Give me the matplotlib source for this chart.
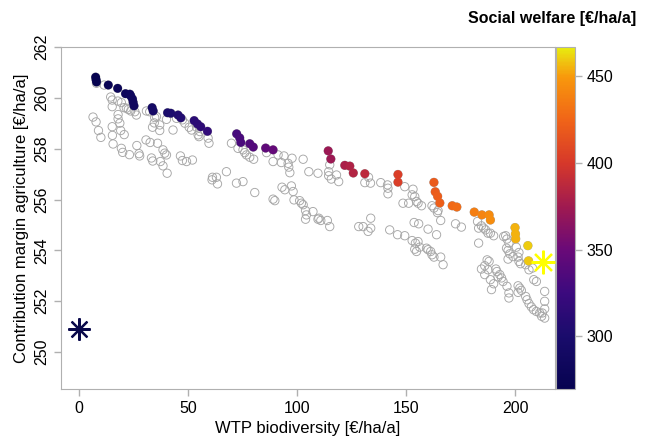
import numpy as np
import matplotlib
matplotlib.use('Agg')
import matplotlib.pyplot as plt
from matplotlib.colors import LinearSegmentedColormap, Normalize

plt.rcParams['font.family'] = ['Liberation Sans', 'DejaVu Sans']

# all solutions (grey open circles)
all_wtp = [8.0, 11.5, 14.5, 15.2, 15.2, 17.8, 19.4, 20.6, 21.7, 22.6, 23.7, 25.6, 26.3,
           17.9, 17.9, 18.7, 6.4, 7.8, 8.9, 10.0, 15.2, 15.3, 19.1, 20.7, 15.6, 19.4,
           20.0, 23.1, 26.5, 27.5, 27.8, 30.7, 32.6, 33.2, 33.8, 30.9, 32.4, 34.7, 35.5,
           34.5, 33.7, 37.0, 37.0, 36.0, 38.5, 39.3, 40.1, 37.3, 38.5, 40.4,
           40.1, 43.1, 44.7, 47.4, 48.5, 50.5, 51.6, 53.9, 55.4, 54.6, 55.0, 59.2, 46.5,
           47.4, 49.3, 52.0, 61.2, 63.0, 67.6, 69.9, 75.2, 76.0, 76.8, 78.3, 80.1, 59.6,
           61.0, 63.5, 72.2, 75.2, 80.6,
           72.9, 86.0, 89.0, 91.3, 92.8, 94.0, 95.9, 96.2, 96.7, 97.7, 102.8, 105.4,
           109.6, 89.0, 89.8, 93.1, 94.4, 97.4, 98.2, 98.6, 101.2, 102.0, 102.8, 103.9,
           104.3, 103.9, 107.3, 109.6,
           114.5, 115.0, 114.5, 115.7, 118.1, 119.1, 131.1, 132.8, 133.7, 138.4, 141.5,
           141.7, 141.7, 110.0, 110.9, 113.9, 115.0, 128.3, 130.3, 132.6, 133.8, 133.8,
           142.5, 146.1,
           149.4, 153.2, 152.8, 154.0, 148.6, 151.2, 154.8, 155.5, 157.1, 161.9, 162.8,
           164.7, 164.4, 165.9, 153.7, 155.8, 160.1, 164.0, 172.7, 175.4, 149.4, 152.8,
           154.3, 155.5, 154.0, 154.8, 156.3, 159.4, 160.1, 161.3, 161.9, 162.8, 165.9,
           167.0, 182.8, 183.3, 183.3,
           184.6, 185.6, 186.5, 187.6, 188.7, 190.2, 195.7, 196.3, 197.2, 196.1, 196.8,
           197.6, 196.8, 199.1, 201.4, 201.8, 202.5, 204.9, 206.4, 208.0, 208.6, 209.8,
           187.2, 188.1, 186.1, 187.6, 191.2, 191.7, 193.0, 192.2, 193.8, 194.5, 196.3,
           197.2, 197.2, 184.6, 186.1, 188.7, 190.2, 189.2, 201.4, 202.2, 202.9, 201.4,
           204.9, 205.5, 206.4, 207.5, 208.5, 209.8, 211.3, 212.5, 213.6, 213.6, 213.6,
           213.6, 212.2, 194.8, 200.6, 201.8]
all_cm = [260.58, 260.51, 260.04, 259.92, 259.66, 259.88, 259.82, 259.62, 259.60, 259.55,
          259.49, 259.46, 259.33, 259.35, 259.18, 259.01, 259.25, 259.06, 258.72, 258.45,
          258.87, 258.53, 258.72, 258.56, 258.19, 258.02, 257.86, 257.77, 258.13, 257.81,
          257.72, 258.35, 258.25, 257.64, 257.52, 259.49, 259.46, 259.23, 259.27, 259.02,
          258.85, 258.94, 258.72, 258.22, 257.96, 257.83, 257.76, 257.50, 257.33, 257.04,
          259.16, 258.74, 259.20, 259.14, 259.01, 258.85, 258.74, 258.85, 258.68, 258.55,
          258.48, 258.42, 257.72, 257.54, 257.50, 257.56, 256.88, 256.88, 257.10, 258.22,
          257.96, 257.85, 257.76, 257.67, 257.59, 258.22, 256.78, 256.62, 256.65, 256.71,
          256.28,
          258.02, 257.85, 257.50, 257.76, 257.46, 257.72, 257.43, 257.28, 257.06, 257.63,
          257.59, 257.10, 257.04, 256.02, 255.96, 256.49, 256.39, 256.54, 256.32, 255.99,
          255.96, 255.86, 255.80, 255.57, 255.40, 255.23, 255.53, 255.23,
          257.10, 257.37, 256.94, 256.81, 256.97, 256.71, 256.67, 256.88, 256.65, 256.67,
          256.58, 256.45, 256.23, 255.27, 255.18, 255.18, 254.94, 254.94, 254.94, 254.75,
          254.88, 255.27, 254.81, 254.62,
          256.51, 256.41, 256.19, 256.12, 255.86, 255.86, 255.93, 255.86, 255.76, 255.76,
          255.67, 255.57, 255.49, 255.18, 255.10, 255.05, 254.84, 254.62, 255.05, 254.92,
          254.58, 254.39, 254.29, 254.35, 254.05, 253.96, 254.13, 254.09, 254.03, 253.96,
          253.83, 253.74, 253.74, 253.44, 255.14, 254.88, 254.29,
          254.97, 254.88, 254.81, 254.68, 254.68, 254.58, 254.58, 254.45, 254.29, 254.09,
          254.00, 253.87, 253.66, 253.76, 253.74, 253.57, 253.48, 253.44, 253.24, 253.31,
          252.85, 252.78, 253.63, 253.57, 253.40, 253.24, 253.27, 253.17, 253.05, 252.96,
          252.92, 252.78, 252.59, 252.33, 252.13, 253.27, 253.05, 252.85, 252.69, 252.46,
          252.61, 252.52, 252.43, 252.35, 252.19, 252.06, 251.91, 251.78, 251.67, 251.60,
          251.54, 251.54, 252.39, 252.00, 251.70, 251.34, 251.41, 254.55, 254.13, 253.92]

# pareto optimal solutions, coloured by social welfare
par_wtp = [7.6, 7.8, 8.0, 13.4, 17.7, 21.3, 23.3, 23.7, 24.5, 24.8, 25.2, 33.5, 34.0,
           40.6, 42.1, 45.4, 46.7, 52.8, 54.3, 55.8, 58.9, 72.3, 73.7, 74.2, 78.3, 79.9,
           85.6, 89.0, 114.3, 115.5, 121.9, 124.2, 125.8, 131.1, 146.3, 146.3, 162.8,
           163.4, 164.5, 165.5, 171.2, 173.3, 181.3, 184.8, 188.1, 188.7, 200.0, 200.2,
           200.3, 205.9, 206.2]
par_cm = [260.82, 260.72, 260.63, 260.51, 260.38, 260.17, 260.15, 260.08, 259.96, 259.83,
          259.69, 259.62, 259.49, 259.42, 259.40, 259.33, 259.22, 259.11, 258.98, 258.87,
          258.69, 258.59, 258.43, 258.25, 258.20, 258.07, 258.03, 257.96, 257.92, 257.60,
          257.35, 257.32, 257.05, 257.02, 256.99, 256.69, 256.68, 256.31, 256.13, 255.87,
          255.76, 255.71, 255.51, 255.40, 255.40, 255.20, 254.90, 254.65, 254.46, 254.19,
          253.59]
par_sw = [268.4, 268.5, 268.6, 273.9, 278.1, 281.5, 283.5, 283.8, 284.5, 284.6, 284.9,
          293.1, 293.5, 300.0, 301.5, 304.7, 305.9, 311.9, 313.3, 314.7, 317.6, 330.9,
          332.1, 332.5, 336.5, 338.0, 343.6, 347.0, 372.2, 373.1, 379.3, 381.5, 382.9,
          388.1, 403.3, 403.0, 419.5, 419.7, 420.6, 421.4, 427.0, 429.0, 436.8, 440.2,
          443.5, 443.9, 454.9, 454.9, 454.8, 460.1, 459.8]

# reference points: status quo and welfare optimum
sq_wtp, sq_cm = 0.0, 250.9
opt_wtp, opt_cm = 212.7, 253.53

cmap = LinearSegmentedColormap.from_list('sw', [
    (0.0, '#060350'), (0.155, '#1a0c6c'), (0.281, '#3c0a7e'), (0.408, '#6a0a78'),
    (0.534, '#a01a50'), (0.661, '#d6382a'), (0.788, '#f06418'), (0.914, '#f8980c'),
    (0.965, '#efc810'), (1.0, '#e8ec0e')])
norm = Normalize(vmin=269.5, vmax=466.8)

fig = plt.figure(figsize=(6.46, 4.41), dpi=100)
ax = fig.add_axes([0.0944, 0.118, 0.7646, 0.775])
cax = fig.add_axes([0.8607, 0.118, 0.0294, 0.775])

grey = '#b0b0b0'
ax.scatter(all_wtp + par_wtp, all_cm + par_cm, s=36, facecolors='none',
           edgecolors='#a6a6a6', linewidths=0.65, zorder=2)
ax.scatter(par_wtp, par_cm, s=40, c=par_sw, cmap=cmap, norm=norm,
           edgecolors='none', zorder=3)
ax.plot(sq_wtp, sq_cm, marker=(8, 2, 0), markersize=16, color='#0b0a4c',
        markeredgewidth=1.6, zorder=4)
ax.plot(opt_wtp, opt_cm, marker=(8, 2, 0), markersize=17, color='#ffff00',
        markeredgewidth=1.6, zorder=4)

ax.set_xlim(-8.3, 218.3)
ax.set_ylim(248.55, 262.0)
ax.set_xticks([0, 50, 100, 150, 200])
ax.set_yticks([250, 252, 254, 256, 258, 260, 262])
ax.tick_params(colors=grey, labelcolor='black', labelsize=11.5, length=5, width=1)
for lab in ax.get_yticklabels():
    lab.set_rotation(90)
    lab.set_va('center')
for sp in ax.spines.values():
    sp.set_color(grey)
ax.set_xlabel('WTP biodiversity [€/ha/a]', fontsize=12)
ax.set_ylabel('Contribution margin agriculture [€/ha/a]', fontsize=12)

cb = fig.colorbar(matplotlib.cm.ScalarMappable(norm=norm, cmap=cmap), cax=cax)
cb.set_ticks([300, 350, 400, 450])
cb.outline.set_edgecolor(grey)
cax.tick_params(colors=grey, labelcolor='black', labelsize=11.5, length=5, width=1)
fig.text(0.985, 0.957, 'Social welfare [€/ha/a]', ha='right', va='center',
         fontsize=11.5, fontweight='bold')

plt.savefig('out.png', dpi=100)
